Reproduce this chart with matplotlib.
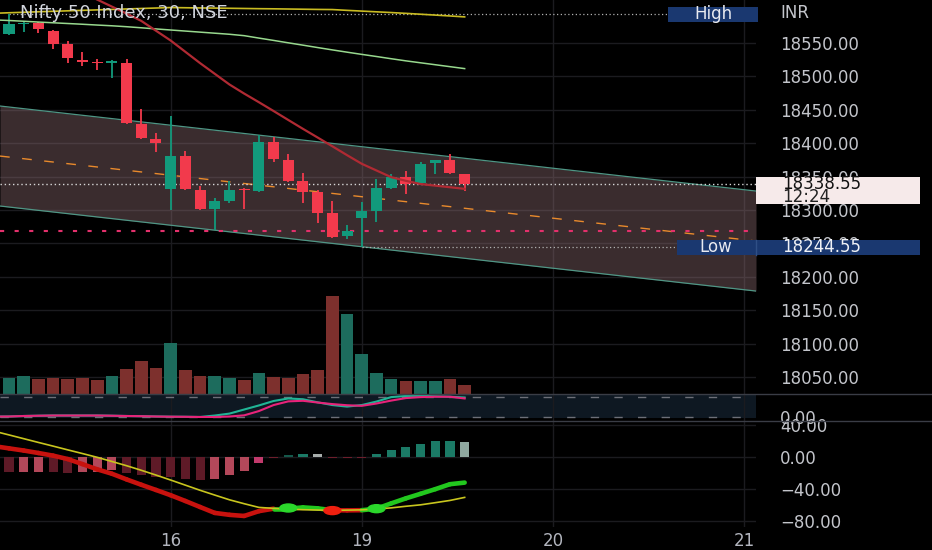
import numpy as np
import matplotlib
matplotlib.use("Agg")
import matplotlib.pyplot as plt
from matplotlib.patches import Rectangle, Ellipse
from matplotlib.collections import LineCollection
from matplotlib.lines import Line2D
from matplotlib.transforms import blended_transform_factory, Affine2D
from matplotlib.ticker import FormatStrFormatter

# ---- dane (30 min, NIFTY 50) ----
opens = [18563.5, 18578.4, 18580.0, 18568.0, 18548.5, 18524.5, 18521.5, 18520.0,
         18520.0, 18428.7, 18406.3, 18331.4, 18380.8, 18330.0, 18301.5, 18313.5,
         18331.4, 18328.4, 18401.8, 18374.9, 18343.4, 18327.0, 18295.5, 18261.0,
         18288.0, 18298.5, 18333.0, 18349.4, 18340.4, 18370.4, 18375.0, 18354.0]
highs = [18593.4, 18582.9, 18581.4, 18569.5, 18553.0, 18536.5, 18526.0, 18524.5,
         18526.0, 18451.2, 18415.3, 18440.7, 18388.3, 18336.0, 18318.0, 18343.4,
         18333.0, 18412.3, 18409.3, 18383.8, 18355.4, 18330.0, 18313.5, 18277.5,
         18312.0, 18346.4, 18354.0, 18358.4, 18372.0, 18375.0, 18384.0, 18354.0]
lows = [18562.0, 18566.5, 18565.0, 18541.0, 18520.0, 18515.5, 18509.6, 18497.6,
        18429.0, 18406.3, 18386.8, 18300.0, 18330.0, 18300.0, 18270.0, 18310.5,
        18301.5, 18327.0, 18372.0, 18342.0, 18310.5, 18280.5, 18258.0, 18256.6,
        18244.55, 18282.0, 18331.4, 18324.0, 18339.0, 18354.0, 18354.0, 18328.0]
closes = [18578.4, 18579.9, 18571.0, 18548.5, 18527.5, 18521.5, 18520.0, 18523.0,
          18430.2, 18407.8, 18400.3, 18380.8, 18331.4, 18301.5, 18313.5, 18330.0,
          18330.0, 18401.8, 18376.4, 18343.4, 18327.0, 18295.5, 18259.6, 18268.6,
          18298.5, 18333.0, 18349.4, 18339.0, 18369.0, 18375.0, 18355.4, 18338.55]
volume = [16, 18, 15.3, 16, 14.6, 16, 14, 17.6, 25, 32.6, 25.6, 50.6, 24, 18.3, 18, 15.6,
          14, 21, 17.3, 16, 19.6, 23.6, 98.3, 79.6, 40.3, 21, 15, 13.3, 13.3, 12.6, 15, 9]

# srednie (od slupka -1)
ma_yellow = [18594.5, 18595.3, 18596.0, 18596.8, 18597.5, 18598.2, 18598.9, 18599.6, 18600.3,
             18601.0, 18601.7, 18602.4, 18603.1, 18602.8, 18602.5, 18602.3, 18602.0, 18601.7,
             18601.4, 18601.2, 18600.9, 18600.6, 18600.3, 18600.1, 18598.9, 18597.8, 18596.7,
             18595.6, 18594.4, 18593.1, 18591.8, 18590.5, 18589.1]
ma_green = [18584.6, 18583.7, 18582.6, 18581.4, 18580.3, 18579.2, 18578.1, 18576.9, 18575.8,
            18574.4, 18572.8, 18571.1, 18569.5, 18567.9, 18566.3, 18564.7, 18563.1, 18561.0,
            18557.4, 18553.9, 18550.3, 18546.8, 18543.2, 18539.7, 18536.3, 18533.0, 18529.8,
            18526.5, 18523.3, 18520.4, 18517.5, 18514.6, 18511.7]
ma_red = [np.nan] * 6 + [18626, 18615, 18604.5, 18594, 18583.1, 18568.4, 18553.7, 18536.8,
          18519.9, 18503.9, 18487.9, 18474.3, 18461.4, 18448.2, 18434.8, 18421.5, 18408.5,
          18395.4, 18382.1, 18369.2, 18359.2, 18349.2, 18343.7, 18338.9, 18336.5, 18334.1,
          18331.7]

# kanal regresji
chan_x = [-0.612, 50.82]
chan_hi = [18455.7, 18328.4]
chan_mid = [18380.8, 18253.6]
chan_lo = [18306.0, 18178.7]
alert_level = 18268.6

# panel srodkowy
osc_teal = [0.5, 1, 3.6, 5, 6, 6, 6, 6, 5, 3.6, 2.6, 1, 0, -0.5, -1.5, 6, 16, 37, 58, 81,
            94, 90, 74, 60, 52, 60, 78, 101, 107, 108, 105, 103, 99]
osc_pink = [0.5, 1, 3.6, 5, 6, 6, 6, 6, 5, 3.6, 2.6, 1, 0, -0.5, -1.5, -1.5, 1, 7, 29, 60,
            79, 82, 73, 65, 59, 56, 68, 83, 96, 101, 103, 103, 94]

# MACD
macd = [13.5, 10.8, 8.1, 5.0, 1.7, -2.6, -8.9, -15.4, -20.9, -28, -34.7, -41.2, -47.8, -55,
        -62.5, -69.9, -72.3, -73.7, -67.7, -64.6, -64.6, -63, -64.2, -66.6, -66.7, -66.5,
        -64.6, -58, -51.7, -46, -40.2, -34, -32]
signal = [32.2, 27.6, 22.9, 18.2, 13.6, 8.9, 4.3, -0.4, -5.6, -10.9, -16.6, -22.6, -28.8,
          -35.2, -41.6, -47.6, -53.5, -58.4, -63, -64.2, -65.1, -65.9, -66.3, -66.7, -66.4,
          -66.1, -65, -63.6, -61.6, -59.8, -57.1, -54.3, -50.5]
hist = [-18.75, -18.75, -18.75, -18.75, -19.6, -19.2, -18.75, -15.9, -19.6, -23, -24.6,
        -25.5, -27.1, -28.75, -27.5, -23, -18, -8, -1, 2.9, 4.2, 3.7, -1.2, -1.2, -1.2,
        4.2, 9.2, 12, 16.25, 19.6, 20.4, 18.3]
hist_kind = ["dk", "pk", "pk", "dk", "dk", "pk", "pk", "pk", "dk", "dk", "dk", "dk", "dk",
             "dk", "pk", "pk", "pk", "mg", "dr", "dg", "gr", "lt", "dr", "dr", "dr", "gr",
             "gr", "gr", "gr", "gr", "gr", "lg"]
cross_idx = [19, 22, 25]
cross_val = [-63.75, -67.0, -64.6]
cross_kind = ["up", "dn", "up"]

price_ticks = list(range(18050, 18551, 50))
macd_ticks = [-80, -40, 0, 40]
macd_labels = ["\u221280.00", "\u221240.00", "0.00", "40.00"]
day_idx = [11, 24, 37, 50]
day_labels = ["16", "19", "20", "21"]

# ---- kolory ----
BG = "black"
GRID = "#1b1b1f"
TXT = "#c3c5cb"
UP, DN = "#129a7c", "#f23a4c"
NAVY = "#1a3870"
FS = 12
hist_colors = {"dk": "#5e1a27", "pk": "#b3485a", "mg": "#c23a6c", "dr": "#6e1e2c",
               "dg": "#15594b", "gr": "#1b7a66", "lt": "#a7adab", "lg": "#8fa8a0"}

W, H = 932, 550
PLOT_R = 756


def fx(px):
    return px / W


def fy(py):
    return 1 - py / H


fig = plt.figure(figsize=(W / 100, H / 100), dpi=100, facecolor=BG)
ax_p = fig.add_axes([0, fy(394), fx(PLOT_R), 394 / H])
ax_r = fig.add_axes([0, fy(421), fx(PLOT_R), 27 / H])
ax_m = fig.add_axes([0, fy(527), fx(PLOT_R), 106 / H])

idx = np.arange(len(closes))
lidx = np.arange(-1, len(closes))
o, h, l, c = map(np.array, (opens, highs, lows, closes))

XL = (-0.612, 50.82)
for ax in (ax_p, ax_r, ax_m):
    ax.set_facecolor(BG)
    ax.set_xlim(*XL)
    for s in ax.spines.values():
        s.set_visible(False)
    ax.tick_params(length=0, colors=TXT, labelsize=FS)
    ax.set_xticks(day_idx)
    ax.grid(True, axis="x", color=GRID, lw=1, zorder=0)
    ax.set_axisbelow(True)
    ax.yaxis.tick_right()

# ---- panel ceny ----
ax_p.set_ylim(18024.6, 18614.4)
ax_p.set_yticks(price_ticks)
ax_p.yaxis.set_major_formatter(FormatStrFormatter("%.2f"))
ax_p.grid(True, axis="y", color=GRID, lw=1, zorder=0)
ax_p.tick_params(axis="y", pad=17.3)
ax_p.set_xticklabels([])

# wolumen na dole panelu ceny
VOL_TOP = 394.0
vtrans = blended_transform_factory(ax_p.transData,
                                   Affine2D().scale(1, 1 / VOL_TOP) + ax_p.transAxes)
up = c >= o
vcol = np.where(up, "#1d6c5d", "#7d302d")
ax_p.bar(idx, volume, width=0.86, bottom=0, color=vcol, transform=vtrans, zorder=1)

ax_p.fill_between(chan_x, chan_lo, chan_hi, color="#8c6a70", alpha=0.42, lw=0, zorder=1)
ax_p.plot(chan_x, chan_hi, color="#4f9685", lw=0.9, zorder=2)
ax_p.plot(chan_x, chan_lo, color="#4f9685", lw=0.9, zorder=2)
ax_p.plot(chan_x, chan_mid, color="#e98a2c", lw=1.0, ls=(0, (7, 9)), zorder=2)

ax_p.axhline(alert_level, color="#e3306c", lw=1.5, ls=(0, (2, 5)), zorder=2)
ax_p.axhline(c[-1], color="#d8d8d8", lw=1.0, ls=(0, (1, 2)), zorder=2)
hi_val, lo_val = h.max(), l.min()
ax_p.hlines(hi_val, idx[h.argmax()], XL[1], color="#b0b0b0", lw=0.9, ls=(0, (1, 2)), zorder=2)
ax_p.hlines(lo_val, idx[l.argmin()], XL[1], color="#b0b0b0", lw=0.9, ls=(0, (1, 2)), zorder=2)

ccol = np.where(up, UP, DN)
ax_p.vlines(idx, l, h, colors=ccol, lw=1.3, zorder=4)
ax_p.bar(idx, np.maximum(np.abs(c - o), 1.5), bottom=np.minimum(o, c), width=0.75,
         color=ccol, zorder=5)

ax_p.plot(lidx, ma_yellow, color="#c9bb22", lw=1.2, zorder=6)
ax_p.plot(lidx, ma_green, color="#98d88e", lw=1.1, zorder=6)
ax_p.plot(lidx, ma_red, color="#b02a33", lw=1.6, zorder=6)

# ---- panel oscylatora ----
ax_r.set_ylim(-22.2, 117)
ax_r.set_yticks([0])
ax_r.set_yticklabels(["0.00"])
ax_r.tick_params(axis="y", pad=17.3)
ax_r.set_xticklabels([])
ax_r.axhspan(-7, 117, color="#0e1822", lw=0, zorder=0.5)
for lvl in (0, 100):
    ax_r.axhline(lvl, color="#6c6f78", lw=1, ls=(0, (6, 11)), zorder=1)
ax_r.plot(lidx, osc_teal, color="#20b596", lw=1.5, zorder=3)
ax_r.plot(lidx, osc_pink, color="#e8237a", lw=1.5, zorder=4)

# ---- panel MACD ----
ax_m.set_ylim(-87.5, 45)
ax_m.set_yticks(macd_ticks)
ax_m.set_yticklabels(macd_labels)
ax_m.grid(True, axis="y", color=GRID, lw=1, zorder=0)
ax_m.tick_params(axis="y", pad=17.3)
ax_m.set_xticklabels(day_labels)
ax_m.tick_params(axis="x", pad=3.5, colors="#b2b5be")

ax_m.bar(idx, hist, width=0.62, color=[hist_colors[k] for k in hist_kind], zorder=2)

mv, sv = np.array(macd), np.array(signal)
pts = np.column_stack([lidx, mv])
segs = np.stack([pts[:-1], pts[1:]], axis=1)
above = (mv[:-1] + mv[1:]) >= (sv[:-1] + sv[1:])
lc = LineCollection(segs, colors=np.where(above, "#22c81e", "#c8120e"), linewidths=3.3,
                    capstyle="round", zorder=4)
ax_m.add_collection(lc)
ax_m.plot(lidx, signal, color="#c8c51e", lw=1.2, zorder=5)
for xi, v, k in zip(cross_idx, cross_val, cross_kind):
    ax_m.add_patch(Ellipse((xi, v), 1.15, 10, color="#2bd82b" if k == "up" else "#f0200f",
                           zorder=6))

# ---- separatory i etykiety ----
for yy in (394, 421):
    fig.add_artist(Line2D([0, 1], [fy(yy), fy(yy)], transform=fig.transFigure,
                          color="#3a3d46", lw=1))

fig.text(fx(20), fy(13), "Nifty 50 Index, 30, NSE", color="#d1d4dc", fontsize=13,
         va="center", ha="left")
fig.text(fx(780), fy(13), "INR", color=TXT, fontsize=FS, va="center", ha="left")

DPP = (18614.4 - 18024.6) / 394
tb = blended_transform_factory(fig.transFigure, ax_p.transData)

fig.add_artist(Rectangle((fx(668), hi_val - 7.5 * DPP), fx(758) - fx(668), 15 * DPP,
                         transform=tb, color=NAVY, lw=0, zorder=5))
fig.text(fx(713), hi_val, "High", transform=tb, color="#e8eaf0", fontsize=FS,
         ha="center", va="center", zorder=6)

fig.add_artist(Rectangle((fx(677), lo_val - 7.5 * DPP), fx(920) - fx(677), 15 * DPP,
                         transform=tb, color=NAVY, lw=0, zorder=5))
fig.add_artist(Line2D([fx(756), fx(756)], [lo_val - 7.5 * DPP, lo_val + 7.5 * DPP],
                      transform=tb, color="#2f4f86", lw=1, zorder=5.5))
fig.text(fx(716), lo_val, "Low", transform=tb, color="#e8eaf0", fontsize=FS,
         ha="center", va="center", zorder=6)
fig.text(fx(782), lo_val, "%.2f" % lo_val, transform=tb, color="#f0f2f6", fontsize=FS,
         ha="left", va="center", zorder=6)

fig.add_artist(Rectangle((fx(756), c[-1] - 20 * DPP), fx(920) - fx(756), 27 * DPP,
                         transform=tb, color="#f6eaea", lw=0, zorder=5))
fig.text(fx(782), c[-1], "%.2f" % c[-1], transform=tb, color="#111111", fontsize=FS,
         ha="left", va="center", zorder=6)
fig.text(fx(782), c[-1] - 13 * DPP, "12:24", transform=tb, color="#222222", fontsize=FS,
         ha="left", va="center", zorder=6)

fig.savefig("out.png", dpi=100, facecolor=BG)
